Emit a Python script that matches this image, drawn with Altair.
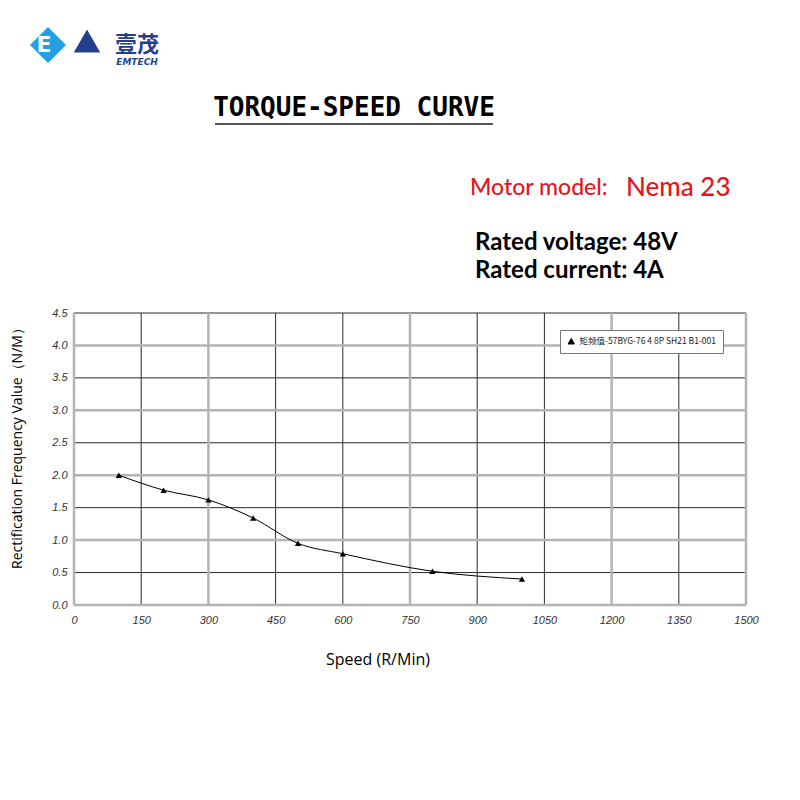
import altair as alt
import pandas as pd

# ---- data ----
speed = [100, 200, 300, 400, 500, 600, 800, 1000]
torque = [2.00, 1.77, 1.62, 1.34, 0.95, 0.79, 0.52, 0.40]
series_name = "矩频值-57BYG-76 4 8P SH21 B1-001"

x_ticks = [0, 150, 300, 450, 600, 750, 900, 1050, 1200, 1350, 1500]
x_grid_gray = [0, 300, 750, 1200, 1500]
x_grid_dark = [150, 450, 600, 900, 1050, 1350]
y_ticks = [0.0, 0.5, 1.0, 1.5, 2.0, 2.5, 3.0, 3.5, 4.0, 4.5]
y_grid_gray = [0.0, 1.0, 2.0, 3.0, 4.0]
y_grid_dark = [0.5, 1.5, 2.5, 3.5, 4.5]

W, H = 672, 292

df = pd.DataFrame({"speed": speed, "torque": torque, "series": series_name})

xs = alt.Scale(domain=[0, 1500], nice=False)
ys = alt.Scale(domain=[0, 4.5], nice=False)

x_axis = alt.Axis(
    values=x_ticks, format="d", title=None, grid=False, domain=False, ticks=False,
    labelFontStyle="italic", labelFont="Liberation Sans", labelFontSize=11,
    labelColor="#333", labelPadding=9, labelFlush=False, labelOverlap=False)
y_axis = alt.Axis(
    values=y_ticks, format=".1f", title=None, grid=False, domain=False, ticks=False,
    labelFontStyle="italic", labelFont="Liberation Sans", labelFontSize=11,
    labelColor="#333", labelPadding=7, labelFlush=False, labelOverlap=False)


def vrules(vals, color, width):
    return alt.Chart(pd.DataFrame({"speed": vals})).mark_rule(color=color, strokeWidth=width).encode(
        x=alt.X("speed:Q", scale=xs, axis=x_axis))


def hrules(vals, color, width):
    return alt.Chart(pd.DataFrame({"torque": vals})).mark_rule(color=color, strokeWidth=width).encode(
        y=alt.Y("torque:Q", scale=ys, axis=y_axis))


grid = (vrules(x_grid_dark, "#2a2a2a", 1) + hrules(y_grid_dark, "#2a2a2a", 1)
        + vrules(x_grid_gray, "#b4b4b4", 2.5) + hrules(y_grid_gray, "#b4b4b4", 2.5))

line = alt.Chart(df).mark_line(interpolate="monotone", strokeWidth=1).encode(
    x=alt.X("speed:Q", scale=xs, axis=x_axis),
    y=alt.Y("torque:Q", scale=ys, axis=y_axis),
    color=alt.Color("series:N", scale=alt.Scale(range=["black"]),
                    legend=alt.Legend(title=None, orient="none", legendX=486, legendY=17,
                                      symbolType="triangle-up", symbolFillColor="black",
                                      symbolStrokeColor="black", symbolSize=40,
                                      labelFont="Noto Sans CJK SC", labelFontSize=8.5,
                                      labelColor="#222",
                                      fillColor="white", strokeColor="#777",
                                      padding=7, symbolStrokeWidth=1)))
pts = alt.Chart(df).mark_point(shape="triangle-up", filled=True, color="black", size=40, opacity=1).encode(
    x=alt.X("speed:Q", scale=xs, axis=x_axis), y=alt.Y("torque:Q", scale=ys, axis=y_axis))


def txt(s, x, y, size, color="black", font="Lato", weight="normal", align="left", angle=0, style="normal"):
    return alt.Chart(pd.DataFrame({"t": [s]})).mark_text(
        text=s, fontSize=size, color=color, font=font, fontWeight=weight, align=align,
        baseline="middle", angle=angle, fontStyle=style).encode(x=alt.value(x), y=alt.value(y))


annot = (
    txt("TORQUE-SPEED CURVE", 280, -205, 26, font="DejaVu Sans Mono", weight="bold", align="center")
    + alt.Chart(pd.DataFrame({"a": [0]})).mark_rule(color="#555", strokeWidth=2).encode(
        x=alt.value(141), x2=alt.value(419), y=alt.value(-189))
    + txt("Motor model:", 396, -125, 23, color="#e8141c", weight=500)
    + txt("Nema 23", 552, -125, 26, color="#e8141c", weight=500)
    + txt("Rated voltage: 48V", 401, -70, 24, weight="bold")
    + txt("Rated current: 4A", 401, -42, 24, weight="bold")
    + txt("Rectification Frequency Value（N/M）", -56, 132, 14, font="Open Sans", align="center", angle=270, weight=500)
    + txt("Speed (R/Min)", 304, 347, 16, font="Open Sans", align="center", weight=500)
    # logo
    + alt.Chart(pd.DataFrame({"a": [0]})).mark_point(shape="diamond", filled=True, color="#22a0e6", size=1300, opacity=1).encode(
        x=alt.value(-26), y=alt.value(-268))
    + txt("E", -30, -268, 22, color="white", font="DejaVu Sans", weight="bold", align="center")
    + alt.Chart(pd.DataFrame({"a": [0]})).mark_point(shape="triangle-up", filled=True, color="#253f8e", size=700, opacity=1).encode(
        x=alt.value(13), y=alt.value(-272))
    + txt("壹茂", 63, -268, 22, color="#253f8e", font="Noto Sans CJK SC", weight="bold", align="center")
    + txt("EMTECH", 63, -251, 9, color="#253f8e", font="DejaVu Sans", weight="bold", align="center", style="italic")
)

chart = alt.layer(grid, line, pts, annot).properties(
    width=W, height=H,
    autosize=alt.AutoSizeParams(type="none"),
    padding={"left": 66, "top": 305, "right": 30, "bottom": 170},
    background="white",
).configure_view(stroke=None)

chart.save("out.html", embed_options={"renderer": "svg", "actions": False})
